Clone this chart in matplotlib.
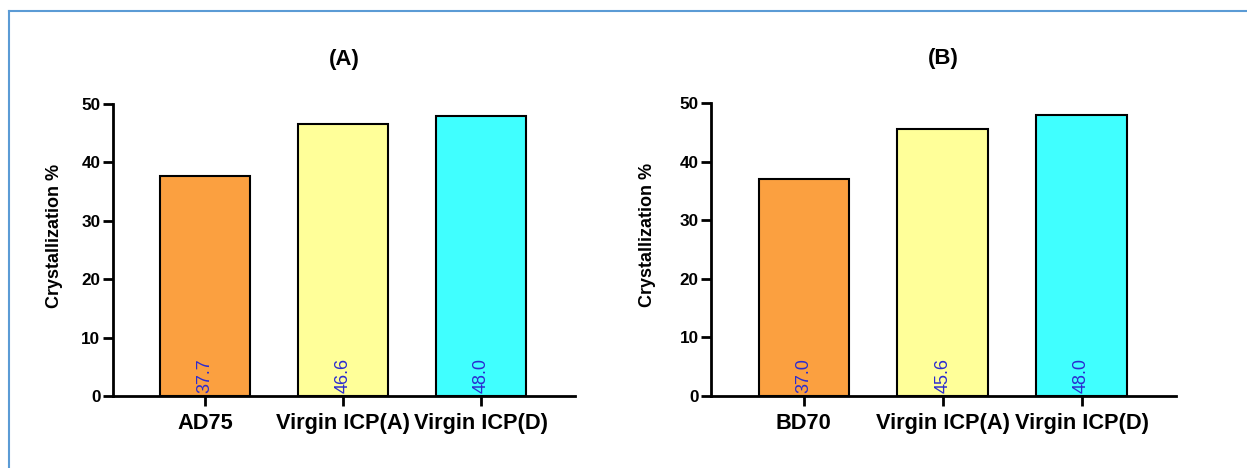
import numpy as np
import matplotlib.pyplot as plt
from matplotlib.lines import Line2D

plt.rcParams['font.family'] = ['Liberation Sans', 'DejaVu Sans']

# panel data
labels_a = ['AD75', 'Virgin ICP(A)', 'Virgin ICP(D)']
values_a = [37.7, 46.6, 48.0]
labels_b = ['BD70', 'Virgin ICP(A)', 'Virgin ICP(D)']
values_b = [37.0, 45.6, 48.0]
titles = ['(A)', '(B)']
bar_colors = ['#FBA040', '#FFFF99', '#40FFFF']

fig = plt.figure(figsize=(12.47, 4.68), dpi=100)
ax_a = fig.add_axes([0.0906, 0.1538, 0.3705, 0.6240])
ax_b = fig.add_axes([0.5702, 0.1538, 0.3729, 0.6262])

for ax, labels, values, title, lab_x in [(ax_a, labels_a, values_a, titles[0], -0.108),
                                         (ax_b, labels_b, values_b, titles[1], -0.118)]:
    x = np.arange(len(labels))
    ax.bar(x, values, width=0.65, color=bar_colors, edgecolor='black', linewidth=1.5, zorder=2)
    for xi, v in zip(x, values):
        ax.text(xi, 0.6, f'{v:.1f}', rotation=90, ha='center', va='bottom',
                color='#2B2BD0', fontsize=13, zorder=3)
    ax.set_xlim(-0.667, 2.68)
    ax.set_ylim(0, 50)
    ax.set_yticks([0, 10, 20, 30, 40, 50])
    ax.set_xticks(x)
    ax.set_xticklabels(labels, fontsize=15.7, fontweight='bold')
    for t in ax.get_yticklabels():
        t.set_fontsize(12.3)
        t.set_fontweight('bold')
    ax.tick_params(axis='both', width=2, length=7, direction='out')
    ax.tick_params(axis='x', pad=5)
    ax.tick_params(axis='y', pad=2)
    for side in ['top', 'right']:
        ax.spines[side].set_visible(False)
    for side in ['left', 'bottom']:
        ax.spines[side].set_linewidth(2)
    ax.set_ylabel('Crystallization %', fontsize=13, fontweight='bold')
    ax.yaxis.set_label_coords(lab_x, 0.548)
    ax.set_title(title, fontsize=16, fontweight='bold', pad=28)

# light blue frame around the figure (only top and left visible)
fig.add_artist(Line2D([9 / 1247, 9 / 1247], [0, 1 - 11 / 468], color='#5B9BD5', linewidth=1.5))
fig.add_artist(Line2D([9 / 1247, 1], [1 - 11 / 468, 1 - 11 / 468], color='#5B9BD5', linewidth=1.5))

fig.savefig('out.png', dpi=100)
